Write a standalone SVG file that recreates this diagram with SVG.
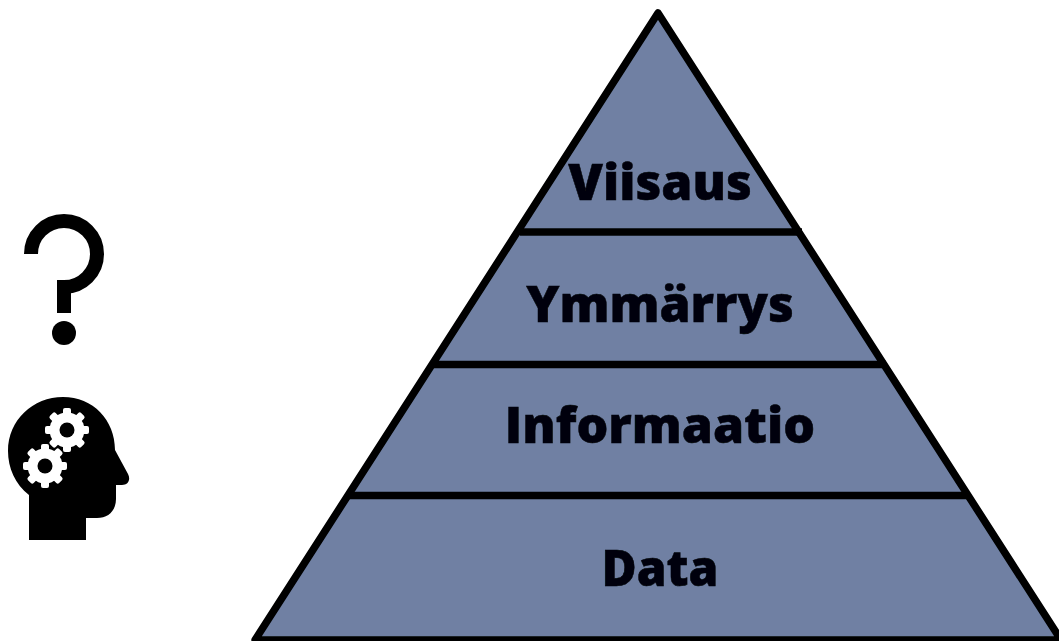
<svg xmlns="http://www.w3.org/2000/svg" width="1059" height="641" viewBox="0 0 1059 641">
<defs>
<style>
.lbl{font-family:"Open Sans","DejaVu Sans",sans-serif;font-weight:800;fill:#030408;stroke:#030408;stroke-width:.5;text-anchor:middle;font-size:50px}
.edge{fill:none;stroke:#000;stroke-width:7.5}
</style>
<filter id="soft" filterUnits="userSpaceOnUse" x="0" y="0" width="1059" height="641"><feGaussianBlur stdDeviation="0.6"/></filter>
<g id="gear">
<circle r="17.5" fill="#fff"/>
<g fill="#fff">
<rect x="-4" y="-22" width="8" height="44" rx="2"/>
<rect x="-4" y="-22" width="8" height="44" rx="2" transform="rotate(45)"/>
<rect x="-4" y="-22" width="8" height="44" rx="2" transform="rotate(90)"/>
<rect x="-4" y="-22" width="8" height="44" rx="2" transform="rotate(135)"/>
</g>
<circle r="7.5" fill="#000"/>
</g>
</defs>
<rect width="1059" height="641" fill="#fff"/>
<g filter="url(#soft)">
<g id="pyramid">
<path d="M658 13L1061 640H255Z" fill="#6f80a3"/>
<g id="connectors">
<path class="edge" d="M658 13L1061 640H255Z" stroke-linejoin="round"/>
<path class="edge" d="M520 232H802"/>
<path class="edge" d="M433 364.500H886"/>
<path class="edge" d="M349 495.500H968"/>
</g>
</g>
<g id="level-viisaus"><text class="lbl" x="660" y="200">Viisaus</text></g>
<g id="level-ymmarrys"><text class="lbl" x="660" y="322">Ymmärrys</text></g>
<g id="level-informaatio"><text class="lbl" x="660" y="443">Informaatio</text></g>
<g id="level-data"><text class="lbl" x="660" y="586" textLength="117" lengthAdjust="spacingAndGlyphs">Data</text></g>
<g id="question">
<path d="M31 254A33 33 0 1 1 64 287V313" fill="none" stroke="#000" stroke-width="14"/>
<circle cx="64" cy="333" r="12"/>
</g>
<g id="head">
<path d="M29 540V495C15 484 8 468 8 451C8 420 33 397 63 397C93 397 115 420 115 450L128 474C131 480 128 485 122 485H116V499C116 511 108 518 97 518H86V540Z"/>
<use href="#gear" x="67" y="430"/>
<use href="#gear" x="45" y="466"/>
</g>
</g>
</svg>
